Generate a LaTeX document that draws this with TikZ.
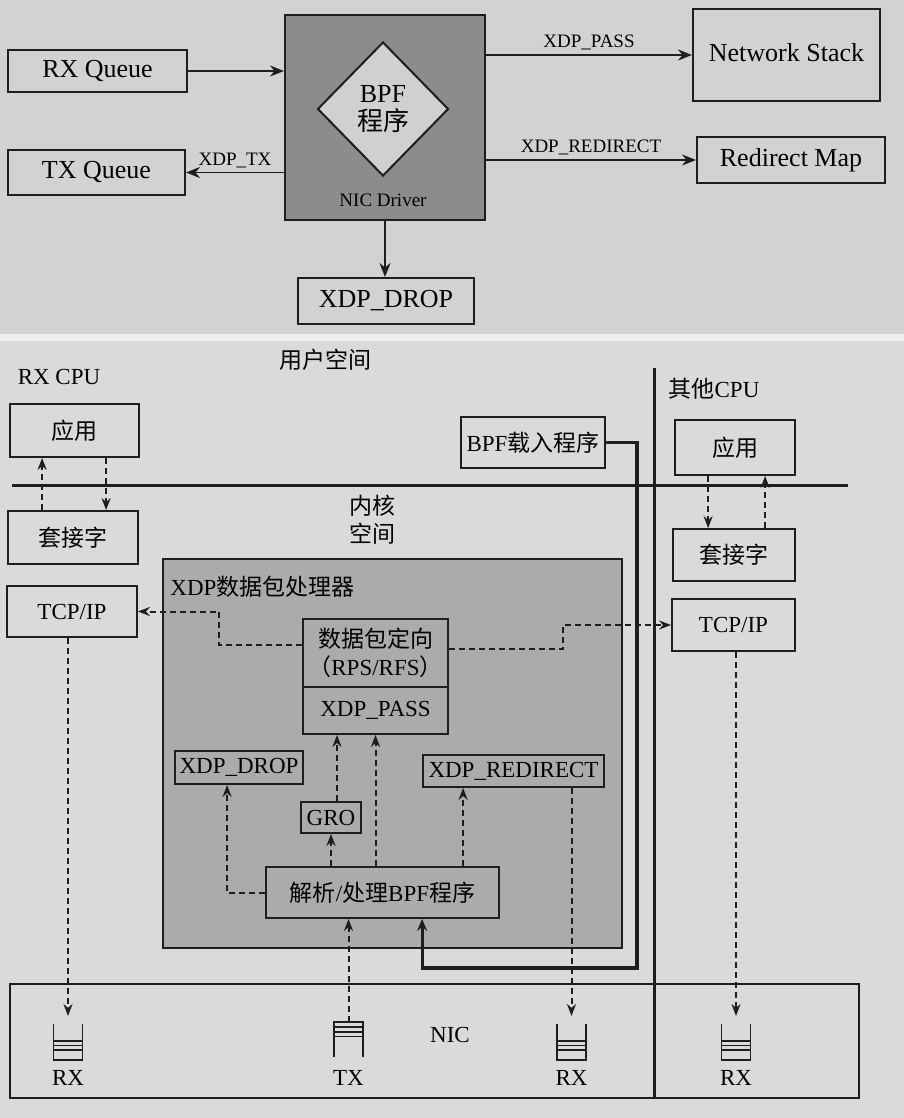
\documentclass[tikz,border=0pt]{standalone}
\usepackage{fontspec}
\setmainfont{Liberation Serif}
\newfontfamily\cjk{Noto Sans CJK SC}
\usepackage{xcolor}
\usepackage{tikz}
\usetikzlibrary{positioning, arrows.meta, calc, shapes.geometric}
\definecolor{paperdark}{HTML}{D2D2D2}
\definecolor{paperlight}{HTML}{DADADA}
\definecolor{paperstrip}{HTML}{EFEFEF}
\definecolor{drivergray}{HTML}{8C8C8C}
\definecolor{diamondgray}{HTML}{D0D0D0}
\definecolor{xdpgray}{HTML}{ABABAB}
\definecolor{inkblack}{HTML}{1E1E1E}

\tikzset{
  topbox/.style={draw=inkblack, line width=1pt, inner sep=0pt, font=\fontsize{13}{14}\selectfont},
  toplabel/.style={font=\fontsize{9.5}{11}\selectfont, inner sep=2pt},
  topflow/.style={draw=inkblack, line width=0.9pt, -{Stealth[length=7pt,width=5.5pt]}},
  botbox/.style={draw=inkblack, line width=0.9pt, inner sep=0pt, font=\fontsize{11.5}{14}\selectfont},
  bottext/.style={font=\fontsize{11.5}{14}\selectfont, inner sep=0pt},
  dflow/.style={draw=inkblack, line width=1pt, dash pattern=on 3pt off 2pt, -{Stealth[length=6pt,width=4.5pt]}},
  bpfline/.style={draw=inkblack, line width=1.6pt, -{Stealth[length=6pt,width=5pt]}},
  divider/.style={draw=inkblack, line width=1.5pt},
  rxqueue/.pic={
    \draw[draw=inkblack, line width=0.8pt] (-7.25pt,9pt) -- (-7.25pt,-9pt) -- (7.25pt,-9pt) -- (7.25pt,9pt);
    \foreach \h in {0.5pt,-1.8pt,-4pt}
      \draw[draw=inkblack, line width=0.7pt] (-7.25pt,\h) -- (7.25pt,\h);
  },
  txqueue/.pic={
    \draw[draw=inkblack, line width=0.8pt] (-7.25pt,-8.75pt) -- (-7.25pt,8.75pt) -- (7.25pt,8.75pt) -- (7.25pt,-8.75pt);
    \foreach \h in {6.25pt,3.75pt,1.5pt}
      \draw[draw=inkblack, line width=0.7pt] (-7.25pt,\h) -- (7.25pt,\h);
  },
}

\begin{document}
\begin{tikzpicture}[x=0.5pt, y=-0.5pt]
    \useasboundingbox (0,0) rectangle (904,1118);
    \fill[paperdark] (0,0) rectangle (904,334);
    \fill[paperstrip] (0,334) rectangle (904,341);
    \fill[paperlight] (0,341) rectangle (904,1118);

    % XDP actions
    \node[topbox, minimum width=89.5pt, minimum height=21pt] (rxq) at (97.5,71) {RX Queue};
    \node[topbox, minimum width=88.5pt, minimum height=22.5pt] (txq) at (96.5,172.5) {TX Queue};
    \node[topbox, fill=drivergray, minimum width=100pt, minimum height=102.5pt] (drv) at (385,117.5) {};
    \node[topbox, diamond, fill=diamondgray, align=center, inner sep=1pt,
          minimum width=65.5pt, minimum height=67pt] (bpf) at (383,109) {BPF\\{\cjk 程序}};
    \node[toplabel] (drvlbl) at (383,200) {NIC Driver};
    \node[topbox, minimum width=93.5pt, minimum height=46pt] (netstack) at (786.5,55) {\raisebox{3pt}{Network Stack}};
    \node[topbox, minimum width=94pt, minimum height=23pt] (redir) at (791,160) {Redirect Map};
    \node[topbox, minimum width=88pt, minimum height=23pt] (drop) at (386,301) {XDP\_DROP};

    \draw[topflow] (rxq.east) -- (rxq.east -| drv.west);
    \draw[topflow] (drv.west |- txq.east) -- node[toplabel, above] (txlbl) {XDP\_TX} (txq.east);
    \draw[topflow] (drv.east |- netstack.west) -- node[toplabel, above] (passlbl) {XDP\_PASS} (netstack.west);
    \draw[topflow] (drv.east |- redir.west) -- node[toplabel, above] (redirlbl) {XDP\_REDIRECT} (redir.west);
    \draw[topflow] (drv.south) -- (drv.south |- drop.north);

    % user / kernel space
    \node[bottext] (rxcpu) at (59,377) {RX CPU};
    \node[bottext] (userlbl) at (325,360) {\cjk 用户空间};
    \node[bottext, align=center] (kernlbl) at (372,520) {{\cjk 内核}\\{\cjk 空间}};
    \node[bottext] (othercpu) at (714,389) {{\cjk 其他}CPU};
    \coordinate (ukl) at (12,485);
    \coordinate (ukr) at (848,485);
    \coordinate (vtop) at (654,368);
    \coordinate (vbot) at (654,1098);

    \node[botbox, minimum width=64.5pt, minimum height=26.5pt] (app1) at (74.5,430.5) {\cjk 应用};
    \node[botbox, minimum width=65pt, minimum height=26.5pt] (sock1) at (73,537.5) {\cjk 套接字};
    \node[botbox, minimum width=65pt, minimum height=25.5pt] (tcp1) at (72,611.5) {TCP/IP};
    \node[botbox, minimum width=72pt, minimum height=25.5pt] (loader) at (533,442.5) {BPF{\cjk 载入程序}};
    \node[botbox, minimum width=60pt, minimum height=27.5pt] (app2) at (735,447.5) {\cjk 应用};
    \node[botbox, minimum width=61pt, minimum height=26pt] (sock2) at (734,555) {\cjk 套接字};
    \node[botbox, minimum width=61.5pt, minimum height=26pt] (tcp2) at (733.5,625) {TCP/IP};

    \node[botbox, fill=xdpgray, minimum width=229.5pt, minimum height=194.5pt] (xdp) at (392.5,753.5) {};
    \node[bottext, anchor=west] (xdplbl) at (170,587) {XDP{\cjk 数据包处理器}};
    \node[botbox, fill=xdpgray, align=center, minimum width=72.5pt, minimum height=34pt] (steer) at (375.5,653)
        {{\cjk 数据包定向}\\{\cjk （}RPS/RFS{\cjk ）}};
    \node[botbox, fill=xdpgray, minimum width=72.5pt, minimum height=23.5pt] (pass) at (375.5,710.5) {XDP\_PASS};
    \node[botbox, fill=xdpgray, minimum width=64pt, minimum height=16.5pt] (drop2) at (239,767.5) {XDP\_DROP};
    \node[botbox, fill=xdpgray, minimum width=90.5pt, minimum height=16pt] (redir2) at (513.5,771) {XDP\_REDIRECT};
    \node[botbox, fill=xdpgray, minimum width=30pt, minimum height=15.5pt] (gro) at (331,817.5) {GRO};
    \node[botbox, fill=xdpgray, minimum width=116.5pt, minimum height=25.5pt] (parse) at (382.5,892.5)
        {{\cjk 解析}/{\cjk 处理}BPF{\cjk 程序}};

    \draw[botbox] (10,984) rectangle (859,1098);
    \node[bottext] (niclbl) at (450,1035) {NIC};
    \pic at (68,1042) {rxqueue};
    \pic at (348.5,1039.5) {txqueue};
    \pic at (571.5,1042) {rxqueue};
    \pic at (736,1042) {rxqueue};
    \node[bottext] (rxlbl1) at (68,1078) {RX};
    \node[bottext] (txlbl2) at (348.5,1078) {TX};
    \node[bottext] (rxlbl2) at (571.5,1078) {RX};
    \node[bottext] (rxlbl3) at (736,1078) {RX};
    \coordinate (rx1) at (68,1016);
    \coordinate (rx2) at (571.5,1016);
    \coordinate (rx3) at (736,1016);
    \coordinate (tx) at (348.5,1022);
    \coordinate (ld) at (637,968);

    \draw[divider] (ukl) -- (ukr);
    \draw[divider] (vtop) -- (vbot);

    \draw[dflow] ([xshift=17.5pt]sock1.north west) -- ([xshift=17.5pt]sock1.north west |- app1.south);
    \draw[dflow] ([xshift=48.5pt]app1.south west) -- ([xshift=48.5pt]app1.south west |- sock1.north);
    \draw[dflow] ([xshift=17pt]app2.south west) -- ([xshift=17pt]app2.south west |- sock2.north);
    \draw[dflow] ([xshift=46.5pt]sock2.north west) -- ([xshift=46.5pt]sock2.north west |- app2.south);

    \draw[dflow] ([yshift=4pt]steer.west) -- ++(-41.5pt,0) |- (tcp1.east);
    \draw[dflow] ([yshift=2pt]steer.east) -- ++(57pt,0) |- (tcp2.west);
    \draw[dflow] (tcp1.south -| rx1) -- (rx1);
    \draw[dflow] (tcp2.south -| rx3) -- (rx3);
    \draw[dflow] (redir2.south -| rx2) -- (rx2);
    \draw[dflow] (tx) -- (tx |- parse.south);

    \draw[dflow] (gro.south |- parse.north) -- (gro.south);
    \draw[dflow] ([xshift=3pt]gro.north) -- ([xshift=3pt]gro.north |- pass.south);
    \draw[dflow] (pass.south |- parse.north) -- (pass.south);
    \draw[dflow] ([xshift=20.5pt]redir2.south west |- parse.north) -- ([xshift=20.5pt]redir2.south west);
    \draw[dflow] (parse.west) -| ([xshift=26.5pt]drop2.south west);

    \draw[bpfline] (loader.east) -| (ld) -| ([xshift=78.5pt]parse.south west);
\end{tikzpicture}
\end{document}
